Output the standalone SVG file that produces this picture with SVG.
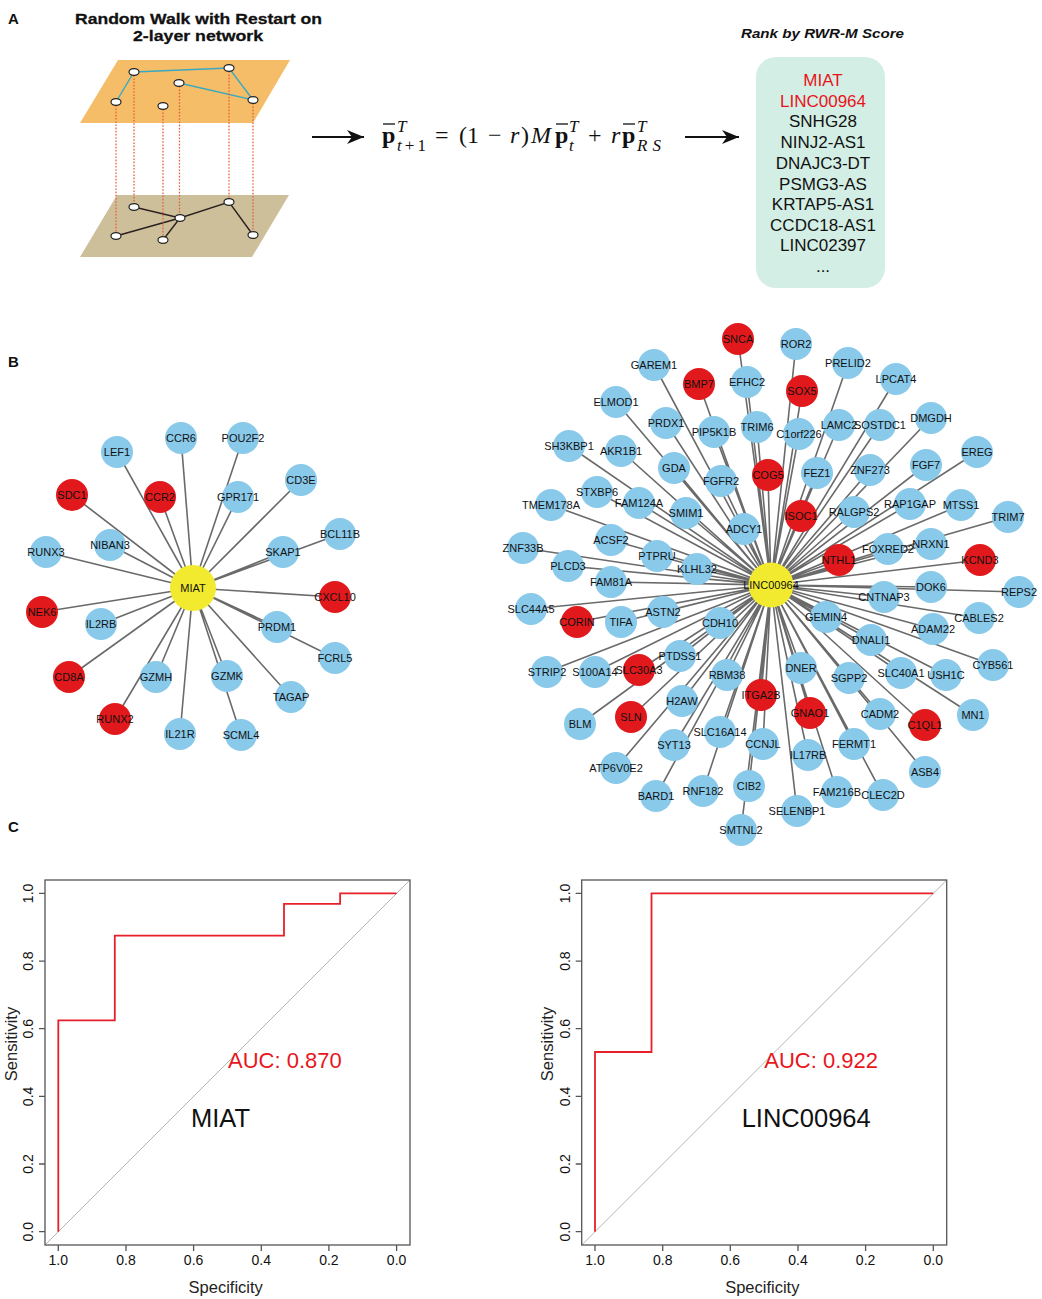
<svg xmlns="http://www.w3.org/2000/svg" width="1042" height="1299" viewBox="0 0 1042 1299">
<style>
text{font-family:"Liberation Sans",Arial,sans-serif;fill:#111}
.e path{stroke:#6a6a6a;stroke-width:1.6;fill:none}
.b{fill:#89c9ea}
.r{fill:#e2191c}
.y{fill:#f2ea2e}
.nl{font-size:11px;text-anchor:middle}
.lab{font-size:15px;font-weight:bold}
.m{font-family:"Liberation Serif","Times New Roman",serif;font-size:24px}
.ms{font-family:"Liberation Serif","Times New Roman",serif;font-size:17px}
.it{font-style:italic}
.bar{stroke:#111;stroke-width:1.3}
.list{font-size:17px;text-anchor:middle}
.pn{fill:#fff;stroke:#222;stroke-width:1.2}
.dot{stroke:#e5603a;stroke-width:1.3;stroke-dasharray:1.6 1.6}
.tk{font-size:14px;fill:#222}
.ax{stroke:#555;stroke-width:1.3;fill:none}
.diag{stroke:#b5b5b5;stroke-width:1}
.roc{stroke:#e8202a;stroke-width:1.8;fill:none}
.auc{font-size:22px;fill:#e8161d}
.nm{font-size:25.5px}
.axl{font-size:16.5px;fill:#222}
</style>
<defs>
<marker id="ah" markerUnits="userSpaceOnUse" markerWidth="20" markerHeight="16" refX="17" refY="7" orient="auto">
<path d="M0,0 L17,7 L0,14 L5,7 Z" fill="#111"/>
</marker>
</defs>
<rect width="1042" height="1299" fill="#fff"/>

<!-- Panel A -->
<text class="lab" x="8" y="24">A</text>
<text x="75" y="24" font-size="15.5" font-weight="bold" textLength="247" lengthAdjust="spacingAndGlyphs" stroke="#111" stroke-width="0.3">Random Walk with Restart on</text>
<text x="133" y="41" font-size="15.5" font-weight="bold" textLength="130" lengthAdjust="spacingAndGlyphs" stroke="#111" stroke-width="0.3">2-layer network</text>
<g id="layer-top">
<polygon points="80,123 118,60 290,60 253,123" fill="#f6bd68"/>
<path d="M116,102 L134,72 L229,68 L253,100 L179,83" stroke="#3aa9c0" stroke-width="1.4" fill="none"/>
</g>
<g id="layer-bottom">
<polygon points="80,257 117,195 289,195 252,257" fill="#cdbf9a"/>
<path d="M134,207 L180,218 L229,202 L253,235 M180,218 L116,236 M180,218 L163,240" stroke="#2a2020" stroke-width="1.4" fill="none"/>
</g>
<g id="interlayer">
<path class="dot" d="M116,102V236M134,72V207M163,106V240M179.5,83V218M229,68V202M253,100V235"/>
</g>
<g id="layer-nodes">
<ellipse class="pn" cx="134" cy="72" rx="5" ry="3.4"/>
<ellipse class="pn" cx="229" cy="68" rx="5" ry="3.4"/>
<ellipse class="pn" cx="179" cy="83" rx="5" ry="3.4"/>
<ellipse class="pn" cx="116" cy="102" rx="5" ry="3.4"/>
<ellipse class="pn" cx="163" cy="106" rx="5" ry="3.4"/>
<ellipse class="pn" cx="253" cy="100" rx="5" ry="3.4"/>
<ellipse class="pn" cx="134" cy="207" rx="5" ry="3.4"/>
<ellipse class="pn" cx="229" cy="202" rx="5" ry="3.4"/>
<ellipse class="pn" cx="180" cy="218" rx="5" ry="3.4"/>
<ellipse class="pn" cx="116" cy="236" rx="5" ry="3.4"/>
<ellipse class="pn" cx="163" cy="240" rx="5" ry="3.4"/>
<ellipse class="pn" cx="253" cy="235" rx="5" ry="3.4"/>
</g>
<g id="arrows">
<line x1="312" y1="137" x2="364" y2="137" stroke="#111" stroke-width="2" marker-end="url(#ah)"/>
<line x1="685" y1="137" x2="739" y2="137" stroke="#111" stroke-width="2" marker-end="url(#ah)"/>
</g>
<g id="formula">
<text class="m" x="382" y="143" font-weight="bold">p</text>
<line class="bar" x1="383" y1="124" x2="395" y2="124"/>
<text class="ms it" x="397" y="132">T</text>
<text class="ms" x="397" y="151" textLength="29"><tspan class="it">t</tspan>+1</text>
<text class="m" x="435" y="143">=</text>
<text class="m" x="459" y="143">(1</text>
<text class="m" x="488" y="143">−</text>
<text class="m it" x="510" y="143">r</text>
<text class="m" x="521" y="143">)</text>
<text class="m it" x="531" y="143">M</text>
<text class="m" x="555" y="143" font-weight="bold">p</text>
<line class="bar" x1="556" y1="124" x2="568" y2="124"/>
<text class="ms it" x="569" y="132">T</text>
<text class="ms it" x="569" y="151">t</text>
<text class="m" x="588" y="143">+</text>
<text class="m it" x="611" y="143">r</text>
<text class="m" x="622" y="143" font-weight="bold">p</text>
<line class="bar" x1="623" y1="124" x2="635" y2="124"/>
<text class="ms it" x="637" y="132">T</text>
<text class="ms it" x="637" y="151" textLength="24">RS</text>
</g>
<text x="741" y="38" font-size="13.5" font-weight="bold" font-style="italic" textLength="163" lengthAdjust="spacingAndGlyphs">Rank by RWR-M Score</text>
<g id="rank-list">
<rect x="756" y="57" width="129" height="231" rx="20" fill="#d3eee4"/>
<text class="list" x="823" y="86" style="fill:#e8141b">MIAT</text>
<text class="list" x="823" y="107" style="fill:#e8141b">LINC00964</text>
<text class="list" x="823" y="127">SNHG28</text>
<text class="list" x="823" y="148">NINJ2-AS1</text>
<text class="list" x="823" y="169">DNAJC3-DT</text>
<text class="list" x="823" y="190">PSMG3-AS</text>
<text class="list" x="823" y="210">KRTAP5-AS1</text>
<text class="list" x="823" y="231">CCDC18-AS1</text>
<text class="list" x="823" y="251">LINC02397</text>
<text class="list" x="823" y="272">...</text>
</g>

<!-- Panel B -->
<text class="lab" x="8" y="367">B</text>
<g id="connectors" class="e">
<path d="M193 588L181 438M193 588L243 438M193 588L117 452M193 588L301 480M193 588L72 495M193 588L160 497M193 588L238 497M193 588L340 534M193 588L46 552M193 588L110 545M193 588L283 552M193 588L335 597M193 588L42 612M193 588L101 624M193 588L277 627M193 588L335 658M193 588L69 677M193 588L156 677M193 588L227 676M193 588L291 697M193 588L115 719M193 588L180 734M193 588L241 735"/>
<path d="M771 585L738 339M771 585L796 344M771 585L654 365M771 585L848 363M771 585L699 384M771 585L747 382M771 585L802 391M771 585L896 379M771 585L616 402M771 585L666 423M771 585L714 432M771 585L757 427M771 585L799 434M771 585L839 425M771 585L880 425M771 585L931 418M771 585L569 446M771 585L621 451M771 585L674 468M771 585L721 481M771 585L768 475M771 585L817 473M771 585L870 470M771 585L926 465M771 585L977 452M771 585L597 492M771 585L639 503M771 585L551 505M771 585L686 513M771 585L744 529M771 585L801 516M771 585L854 512M771 585L910 504M771 585L961 505M771 585L1008 517M771 585L611 540M771 585L523 548M771 585L657 556M771 585L697 569M771 585L568 566M771 585L888 549M771 585L931 544M771 585L839 560M771 585L980 560M771 585L611 582M771 585L931 587M771 585L1019 592M771 585L884 597M771 585L531 609M771 585L577 622M771 585L621 622M771 585L663 612M771 585L720 623M771 585L826 617M771 585L979 618M771 585L933 629M771 585L871 640M771 585L993 665M771 585L547 672M771 585L595 672M771 585L639 670M771 585L680 656M771 585L727 675M771 585L801 668M771 585L849 678M771 585L901 673M771 585L946 675M771 585L761 695M771 585L810 713M771 585L880 714M771 585L925 725M771 585L973 715M771 585L580 724M771 585L631 717M771 585L682 701M771 585L674 745M771 585L720 732M771 585L763 744M771 585L808 755M771 585L854 744M771 585L925 772M771 585L616 768M771 585L656 796M771 585L703 791M771 585L749 786M771 585L837 792M771 585L883 795M771 585L797 811M771 585L741 830"/>
</g>
<g id="miat-network">
<g id="n-CCR6"><circle class="b" cx="181" cy="438" r="16"/><text class="nl" x="181" y="442">CCR6</text></g>
<g id="n-POU2F2"><circle class="b" cx="243" cy="438" r="16"/><text class="nl" x="243" y="442">POU2F2</text></g>
<g id="n-LEF1"><circle class="b" cx="117" cy="452" r="16"/><text class="nl" x="117" y="456">LEF1</text></g>
<g id="n-CD3E"><circle class="b" cx="301" cy="480" r="16"/><text class="nl" x="301" y="484">CD3E</text></g>
<g id="n-SDC1"><circle class="r" cx="72" cy="495" r="16"/><text class="nl" x="72" y="499">SDC1</text></g>
<g id="n-CCR2"><circle class="r" cx="160" cy="497" r="16"/><text class="nl" x="160" y="501">CCR2</text></g>
<g id="n-GPR171"><circle class="b" cx="238" cy="497" r="16"/><text class="nl" x="238" y="501">GPR171</text></g>
<g id="n-BCL11B"><circle class="b" cx="340" cy="534" r="16"/><text class="nl" x="340" y="538">BCL11B</text></g>
<g id="n-RUNX3"><circle class="b" cx="46" cy="552" r="16"/><text class="nl" x="46" y="556">RUNX3</text></g>
<g id="n-NIBAN3"><circle class="b" cx="110" cy="545" r="16"/><text class="nl" x="110" y="549">NIBAN3</text></g>
<g id="n-SKAP1"><circle class="b" cx="283" cy="552" r="16"/><text class="nl" x="283" y="556">SKAP1</text></g>
<g id="n-CXCL10"><circle class="r" cx="335" cy="597" r="16"/><text class="nl" x="335" y="601">CXCL10</text></g>
<g id="n-NEK6"><circle class="r" cx="42" cy="612" r="16"/><text class="nl" x="42" y="616">NEK6</text></g>
<g id="n-IL2RB"><circle class="b" cx="101" cy="624" r="16"/><text class="nl" x="101" y="628">IL2RB</text></g>
<g id="n-PRDM1"><circle class="b" cx="277" cy="627" r="16"/><text class="nl" x="277" y="631">PRDM1</text></g>
<g id="n-FCRL5"><circle class="b" cx="335" cy="658" r="16"/><text class="nl" x="335" y="662">FCRL5</text></g>
<g id="n-CD8A"><circle class="r" cx="69" cy="677" r="16"/><text class="nl" x="69" y="681">CD8A</text></g>
<g id="n-GZMH"><circle class="b" cx="156" cy="677" r="16"/><text class="nl" x="156" y="681">GZMH</text></g>
<g id="n-GZMK"><circle class="b" cx="227" cy="676" r="16"/><text class="nl" x="227" y="680">GZMK</text></g>
<g id="n-TAGAP"><circle class="b" cx="291" cy="697" r="16"/><text class="nl" x="291" y="701">TAGAP</text></g>
<g id="n-RUNX2"><circle class="r" cx="115" cy="719" r="16"/><text class="nl" x="115" y="723">RUNX2</text></g>
<g id="n-IL21R"><circle class="b" cx="180" cy="734" r="16"/><text class="nl" x="180" y="738">IL21R</text></g>
<g id="n-SCML4"><circle class="b" cx="241" cy="735" r="16"/><text class="nl" x="241" y="739">SCML4</text></g>
<g id="n-MIAT"><circle class="y" cx="193" cy="588" r="23"/><text class="nl" x="193" y="592">MIAT</text></g>
</g>
<g id="linc-network">
<g id="n-SNCA"><circle class="r" cx="738" cy="339" r="16"/><text class="nl" x="738" y="343">SNCA</text></g>
<g id="n-ROR2"><circle class="b" cx="796" cy="344" r="16"/><text class="nl" x="796" y="348">ROR2</text></g>
<g id="n-GAREM1"><circle class="b" cx="654" cy="365" r="16"/><text class="nl" x="654" y="369">GAREM1</text></g>
<g id="n-PRELID2"><circle class="b" cx="848" cy="363" r="16"/><text class="nl" x="848" y="367">PRELID2</text></g>
<g id="n-BMP7"><circle class="r" cx="699" cy="384" r="16"/><text class="nl" x="699" y="388">BMP7</text></g>
<g id="n-EFHC2"><circle class="b" cx="747" cy="382" r="16"/><text class="nl" x="747" y="386">EFHC2</text></g>
<g id="n-SOX5"><circle class="r" cx="802" cy="391" r="16"/><text class="nl" x="802" y="395">SOX5</text></g>
<g id="n-LPCAT4"><circle class="b" cx="896" cy="379" r="16"/><text class="nl" x="896" y="383">LPCAT4</text></g>
<g id="n-ELMOD1"><circle class="b" cx="616" cy="402" r="16"/><text class="nl" x="616" y="406">ELMOD1</text></g>
<g id="n-PRDX1"><circle class="b" cx="666" cy="423" r="16"/><text class="nl" x="666" y="427">PRDX1</text></g>
<g id="n-PIP5K1B"><circle class="b" cx="714" cy="432" r="16"/><text class="nl" x="714" y="436">PIP5K1B</text></g>
<g id="n-TRIM6"><circle class="b" cx="757" cy="427" r="16"/><text class="nl" x="757" y="431">TRIM6</text></g>
<g id="n-C1orf226"><circle class="b" cx="799" cy="434" r="16"/><text class="nl" x="799" y="438">C1orf226</text></g>
<g id="n-LAMC2"><circle class="b" cx="839" cy="425" r="16"/><text class="nl" x="839" y="429">LAMC2</text></g>
<g id="n-SOSTDC1"><circle class="b" cx="880" cy="425" r="16"/><text class="nl" x="880" y="429">SOSTDC1</text></g>
<g id="n-DMGDH"><circle class="b" cx="931" cy="418" r="16"/><text class="nl" x="931" y="422">DMGDH</text></g>
<g id="n-SH3KBP1"><circle class="b" cx="569" cy="446" r="16"/><text class="nl" x="569" y="450">SH3KBP1</text></g>
<g id="n-AKR1B1"><circle class="b" cx="621" cy="451" r="16"/><text class="nl" x="621" y="455">AKR1B1</text></g>
<g id="n-GDA"><circle class="b" cx="674" cy="468" r="16"/><text class="nl" x="674" y="472">GDA</text></g>
<g id="n-FGFR2"><circle class="b" cx="721" cy="481" r="16"/><text class="nl" x="721" y="485">FGFR2</text></g>
<g id="n-COG5"><circle class="r" cx="768" cy="475" r="16"/><text class="nl" x="768" y="479">COG5</text></g>
<g id="n-FEZ1"><circle class="b" cx="817" cy="473" r="16"/><text class="nl" x="817" y="477">FEZ1</text></g>
<g id="n-ZNF273"><circle class="b" cx="870" cy="470" r="16"/><text class="nl" x="870" y="474">ZNF273</text></g>
<g id="n-FGF7"><circle class="b" cx="926" cy="465" r="16"/><text class="nl" x="926" y="469">FGF7</text></g>
<g id="n-EREG"><circle class="b" cx="977" cy="452" r="16"/><text class="nl" x="977" y="456">EREG</text></g>
<g id="n-STXBP6"><circle class="b" cx="597" cy="492" r="16"/><text class="nl" x="597" y="496">STXBP6</text></g>
<g id="n-TMEM178A"><circle class="b" cx="551" cy="505" r="16"/><text class="nl" x="551" y="509">TMEM178A</text></g>
<g id="n-FAM124A"><circle class="b" cx="639" cy="503" r="16"/><text class="nl" x="639" y="507">FAM124A</text></g>
<g id="n-SMIM1"><circle class="b" cx="686" cy="513" r="16"/><text class="nl" x="686" y="517">SMIM1</text></g>
<g id="n-ADCY1"><circle class="b" cx="744" cy="529" r="16"/><text class="nl" x="744" y="533">ADCY1</text></g>
<g id="n-ISOC1"><circle class="r" cx="801" cy="516" r="16"/><text class="nl" x="801" y="520">ISOC1</text></g>
<g id="n-RALGPS2"><circle class="b" cx="854" cy="512" r="16"/><text class="nl" x="854" y="516">RALGPS2</text></g>
<g id="n-RAP1GAP"><circle class="b" cx="910" cy="504" r="16"/><text class="nl" x="910" y="508">RAP1GAP</text></g>
<g id="n-MTSS1"><circle class="b" cx="961" cy="505" r="16"/><text class="nl" x="961" y="509">MTSS1</text></g>
<g id="n-TRIM7"><circle class="b" cx="1008" cy="517" r="16"/><text class="nl" x="1008" y="521">TRIM7</text></g>
<g id="n-ACSF2"><circle class="b" cx="611" cy="540" r="16"/><text class="nl" x="611" y="544">ACSF2</text></g>
<g id="n-ZNF33B"><circle class="b" cx="523" cy="548" r="16"/><text class="nl" x="523" y="552">ZNF33B</text></g>
<g id="n-PTPRU"><circle class="b" cx="657" cy="556" r="16"/><text class="nl" x="657" y="560">PTPRU</text></g>
<g id="n-KLHL32"><circle class="b" cx="697" cy="569" r="16"/><text class="nl" x="697" y="573">KLHL32</text></g>
<g id="n-PLCD3"><circle class="b" cx="568" cy="566" r="16"/><text class="nl" x="568" y="570">PLCD3</text></g>
<g id="n-FOXRED2"><circle class="b" cx="888" cy="549" r="16"/><text class="nl" x="888" y="553">FOXRED2</text></g>
<g id="n-NRXN1"><circle class="b" cx="931" cy="544" r="16"/><text class="nl" x="931" y="548">NRXN1</text></g>
<g id="n-NTHL1"><circle class="r" cx="839" cy="560" r="16"/><text class="nl" x="839" y="564">NTHL1</text></g>
<g id="n-KCND3"><circle class="r" cx="980" cy="560" r="16"/><text class="nl" x="980" y="564">KCND3</text></g>
<g id="n-FAM81A"><circle class="b" cx="611" cy="582" r="16"/><text class="nl" x="611" y="586">FAM81A</text></g>
<g id="n-DOK6"><circle class="b" cx="931" cy="587" r="16"/><text class="nl" x="931" y="591">DOK6</text></g>
<g id="n-REPS2"><circle class="b" cx="1019" cy="592" r="16"/><text class="nl" x="1019" y="596">REPS2</text></g>
<g id="n-CNTNAP3"><circle class="b" cx="884" cy="597" r="16"/><text class="nl" x="884" y="601">CNTNAP3</text></g>
<g id="n-SLC44A5"><circle class="b" cx="531" cy="609" r="16"/><text class="nl" x="531" y="613">SLC44A5</text></g>
<g id="n-CORIN"><circle class="r" cx="577" cy="622" r="16"/><text class="nl" x="577" y="626">CORIN</text></g>
<g id="n-TIFA"><circle class="b" cx="621" cy="622" r="16"/><text class="nl" x="621" y="626">TIFA</text></g>
<g id="n-ASTN2"><circle class="b" cx="663" cy="612" r="16"/><text class="nl" x="663" y="616">ASTN2</text></g>
<g id="n-CDH10"><circle class="b" cx="720" cy="623" r="16"/><text class="nl" x="720" y="627">CDH10</text></g>
<g id="n-GEMIN4"><circle class="b" cx="826" cy="617" r="16"/><text class="nl" x="826" y="621">GEMIN4</text></g>
<g id="n-CABLES2"><circle class="b" cx="979" cy="618" r="16"/><text class="nl" x="979" y="622">CABLES2</text></g>
<g id="n-ADAM22"><circle class="b" cx="933" cy="629" r="16"/><text class="nl" x="933" y="633">ADAM22</text></g>
<g id="n-DNALI1"><circle class="b" cx="871" cy="640" r="16"/><text class="nl" x="871" y="644">DNALI1</text></g>
<g id="n-CYB561"><circle class="b" cx="993" cy="665" r="16"/><text class="nl" x="993" y="669">CYB561</text></g>
<g id="n-STRIP2"><circle class="b" cx="547" cy="672" r="16"/><text class="nl" x="547" y="676">STRIP2</text></g>
<g id="n-S100A14"><circle class="b" cx="595" cy="672" r="16"/><text class="nl" x="595" y="676">S100A14</text></g>
<g id="n-SLC30A3"><circle class="r" cx="639" cy="670" r="16"/><text class="nl" x="639" y="674">SLC30A3</text></g>
<g id="n-PTDSS1"><circle class="b" cx="680" cy="656" r="16"/><text class="nl" x="680" y="660">PTDSS1</text></g>
<g id="n-RBM38"><circle class="b" cx="727" cy="675" r="16"/><text class="nl" x="727" y="679">RBM38</text></g>
<g id="n-DNER"><circle class="b" cx="801" cy="668" r="16"/><text class="nl" x="801" y="672">DNER</text></g>
<g id="n-SGPP2"><circle class="b" cx="849" cy="678" r="16"/><text class="nl" x="849" y="682">SGPP2</text></g>
<g id="n-SLC40A1"><circle class="b" cx="901" cy="673" r="16"/><text class="nl" x="901" y="677">SLC40A1</text></g>
<g id="n-USH1C"><circle class="b" cx="946" cy="675" r="16"/><text class="nl" x="946" y="679">USH1C</text></g>
<g id="n-ITGA2B"><circle class="r" cx="761" cy="695" r="16"/><text class="nl" x="761" y="699">ITGA2B</text></g>
<g id="n-GNAO1"><circle class="r" cx="810" cy="713" r="16"/><text class="nl" x="810" y="717">GNAO1</text></g>
<g id="n-CADM2"><circle class="b" cx="880" cy="714" r="16"/><text class="nl" x="880" y="718">CADM2</text></g>
<g id="n-C1QL1"><circle class="r" cx="925" cy="725" r="16"/><text class="nl" x="925" y="729">C1QL1</text></g>
<g id="n-MN1"><circle class="b" cx="973" cy="715" r="16"/><text class="nl" x="973" y="719">MN1</text></g>
<g id="n-BLM"><circle class="b" cx="580" cy="724" r="16"/><text class="nl" x="580" y="728">BLM</text></g>
<g id="n-SLN"><circle class="r" cx="631" cy="717" r="16"/><text class="nl" x="631" y="721">SLN</text></g>
<g id="n-H2AW"><circle class="b" cx="682" cy="701" r="16"/><text class="nl" x="682" y="705">H2AW</text></g>
<g id="n-SYT13"><circle class="b" cx="674" cy="745" r="16"/><text class="nl" x="674" y="749">SYT13</text></g>
<g id="n-SLC16A14"><circle class="b" cx="720" cy="732" r="16"/><text class="nl" x="720" y="736">SLC16A14</text></g>
<g id="n-CCNJL"><circle class="b" cx="763" cy="744" r="16"/><text class="nl" x="763" y="748">CCNJL</text></g>
<g id="n-IL17RB"><circle class="b" cx="808" cy="755" r="16"/><text class="nl" x="808" y="759">IL17RB</text></g>
<g id="n-FERMT1"><circle class="b" cx="854" cy="744" r="16"/><text class="nl" x="854" y="748">FERMT1</text></g>
<g id="n-ASB4"><circle class="b" cx="925" cy="772" r="16"/><text class="nl" x="925" y="776">ASB4</text></g>
<g id="n-ATP6V0E2"><circle class="b" cx="616" cy="768" r="16"/><text class="nl" x="616" y="772">ATP6V0E2</text></g>
<g id="n-BARD1"><circle class="b" cx="656" cy="796" r="16"/><text class="nl" x="656" y="800">BARD1</text></g>
<g id="n-RNF182"><circle class="b" cx="703" cy="791" r="16"/><text class="nl" x="703" y="795">RNF182</text></g>
<g id="n-CIB2"><circle class="b" cx="749" cy="786" r="16"/><text class="nl" x="749" y="790">CIB2</text></g>
<g id="n-FAM216B"><circle class="b" cx="837" cy="792" r="16"/><text class="nl" x="837" y="796">FAM216B</text></g>
<g id="n-CLEC2D"><circle class="b" cx="883" cy="795" r="16"/><text class="nl" x="883" y="799">CLEC2D</text></g>
<g id="n-SELENBP1"><circle class="b" cx="797" cy="811" r="16"/><text class="nl" x="797" y="815">SELENBP1</text></g>
<g id="n-SMTNL2"><circle class="b" cx="741" cy="830" r="16"/><text class="nl" x="741" y="834">SMTNL2</text></g>
<g id="n-LINC00964"><circle class="y" cx="771" cy="585" r="22.5"/><text class="nl" x="771" y="589">LINC00964</text></g>
</g>

<!-- Panel C -->
<text class="lab" x="8" y="832">C</text>
<g id="roc-miat">
<line class="diag" x1="45" y1="1245" x2="410" y2="880"/>
<path class="roc" d="M58.3 1231.7V1020.3H114.8V935.7H284V903.9H340.1V893.4H396.6"/>
<rect class="ax" x="45" y="880" width="365" height="365"/>
<path class="ax" d="M39 1231.7H45M39 1164H45M39 1096.4H45M39 1028.7H45M39 961.1H45M39 893.4H45M58.3 1245V1251M126 1245V1251M193.6 1245V1251M261.3 1245V1251M328.9 1245V1251M396.6 1245V1251"/>
<g class="tk" text-anchor="middle">
<text transform="translate(33,1231.7) rotate(-90)">0.0</text>
<text transform="translate(33,1164) rotate(-90)">0.2</text>
<text transform="translate(33,1096.4) rotate(-90)">0.4</text>
<text transform="translate(33,1028.7) rotate(-90)">0.6</text>
<text transform="translate(33,961.1) rotate(-90)">0.8</text>
<text transform="translate(33,893.4) rotate(-90)">1.0</text>
<text x="58.3" y="1265">1.0</text>
<text x="126" y="1265">0.8</text>
<text x="193.6" y="1265">0.6</text>
<text x="261.3" y="1265">0.4</text>
<text x="328.9" y="1265">0.2</text>
<text x="396.6" y="1265">0.0</text>
</g>
<text class="axl" x="225.7" y="1293" text-anchor="middle">Specificity</text>
<text class="axl" transform="translate(17,1044) rotate(-90)" text-anchor="middle">Sensitivity</text>
<text class="auc" x="228" y="1068">AUC: 0.870</text>
<text class="nm" x="191" y="1127">MIAT</text>
</g>
<g id="roc-linc">
<line class="diag" x1="581.7" y1="1245" x2="946.7" y2="880"/>
<path class="roc" d="M595 1231.7V1052H651.5V893.4H933.3"/>
<rect class="ax" x="581.7" y="880" width="365" height="365"/>
<path class="ax" d="M575.7 1231.7H581.7M575.7 1164H581.7M575.7 1096.4H581.7M575.7 1028.7H581.7M575.7 961.1H581.7M575.7 893.4H581.7M595 1245V1251M662.7 1245V1251M730.3 1245V1251M798 1245V1251M865.6 1245V1251M933.3 1245V1251"/>
<g class="tk" text-anchor="middle">
<text transform="translate(570,1231.7) rotate(-90)">0.0</text>
<text transform="translate(570,1164) rotate(-90)">0.2</text>
<text transform="translate(570,1096.4) rotate(-90)">0.4</text>
<text transform="translate(570,1028.7) rotate(-90)">0.6</text>
<text transform="translate(570,961.1) rotate(-90)">0.8</text>
<text transform="translate(570,893.4) rotate(-90)">1.0</text>
<text x="595" y="1265">1.0</text>
<text x="662.7" y="1265">0.8</text>
<text x="730.3" y="1265">0.6</text>
<text x="798" y="1265">0.4</text>
<text x="865.6" y="1265">0.2</text>
<text x="933.3" y="1265">0.0</text>
</g>
<text class="axl" x="762.3" y="1293" text-anchor="middle">Specificity</text>
<text class="axl" transform="translate(553,1044) rotate(-90)" text-anchor="middle">Sensitivity</text>
<text class="auc" x="764.3" y="1068">AUC: 0.922</text>
<text class="nm" x="741.7" y="1127">LINC00964</text>
</g>
</svg>
